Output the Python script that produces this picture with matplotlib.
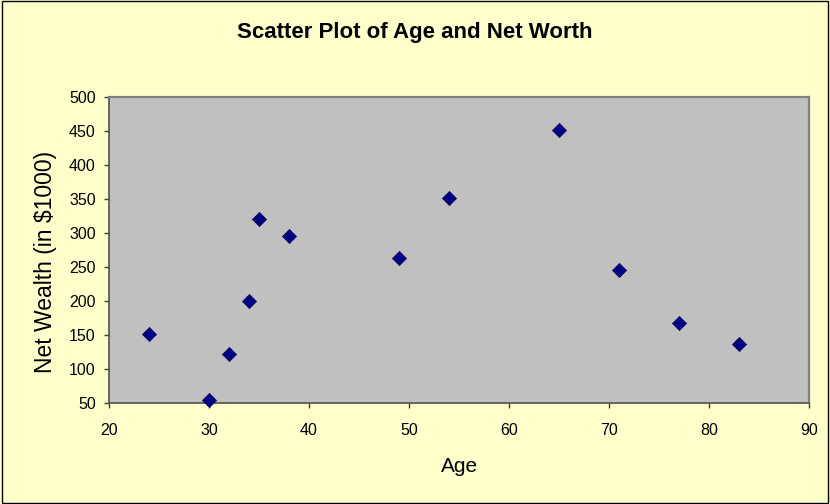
import matplotlib
matplotlib.use("Agg")
import matplotlib.pyplot as plt
from matplotlib.patches import Rectangle

plt.rcParams['font.family'] = ['Liberation Sans', 'DejaVu Sans']

# age vs net wealth (in $1000)
ages = [24, 30, 32, 34, 35, 38, 49, 54, 65, 71, 77, 83]
net_wealth = [152, 55, 122, 200, 321, 296, 263, 351, 452, 245, 168, 137]

x_ticks = [20, 30, 40, 50, 60, 70, 80, 90]
y_ticks = [50, 100, 150, 200, 250, 300, 350, 400, 450, 500]

fig = plt.figure(figsize=(8.3, 5.04), dpi=100, facecolor='#FFFFCC')
ax = fig.add_axes([0.1313, 0.2004, 0.8434, 0.6071])
ax.set_facecolor('#C0C0C0')

ax.scatter(ages, net_wealth, marker='D', s=52, color='#000080',
           edgecolors='#000060', linewidths=0.5, zorder=3, clip_on=False)

ax.set_xlim(20, 90)
ax.set_ylim(50, 500)
ax.set_xticks(x_ticks)
ax.set_yticks(y_ticks)
ax.tick_params(axis='both', direction='out', length=3.5, width=1,
               color='#404040', labelsize=11.5)
ax.tick_params(axis='x', pad=11)
ax.tick_params(axis='y', pad=6)

for side in ['left', 'bottom']:
    ax.spines[side].set_color('#505050')
    ax.spines[side].set_linewidth(1.2)
for side in ['top', 'right']:
    ax.spines[side].set_color('#808080')
    ax.spines[side].set_linewidth(1.6)

ax.set_xlabel("Age", fontsize=15, va='center')
ax.xaxis.set_label_coords(0.501, -0.209)
ax.set_ylabel("Net Wealth (in $1000)", fontsize=16.5, va='center')
ax.yaxis.set_label_coords(-0.091, 0.46)

fig.text(0.5, 0.935, "Scatter Plot of Age and Net Worth", ha='center', va='center',
         fontsize=16, fontweight='bold')

# thin outer border around the whole chart
fig.patches.append(Rectangle((0.002, 0.002), 0.996, 0.996, transform=fig.transFigure,
                             fill=False, edgecolor='black', linewidth=1))

fig.savefig("out.png", dpi=100, facecolor=fig.get_facecolor())
